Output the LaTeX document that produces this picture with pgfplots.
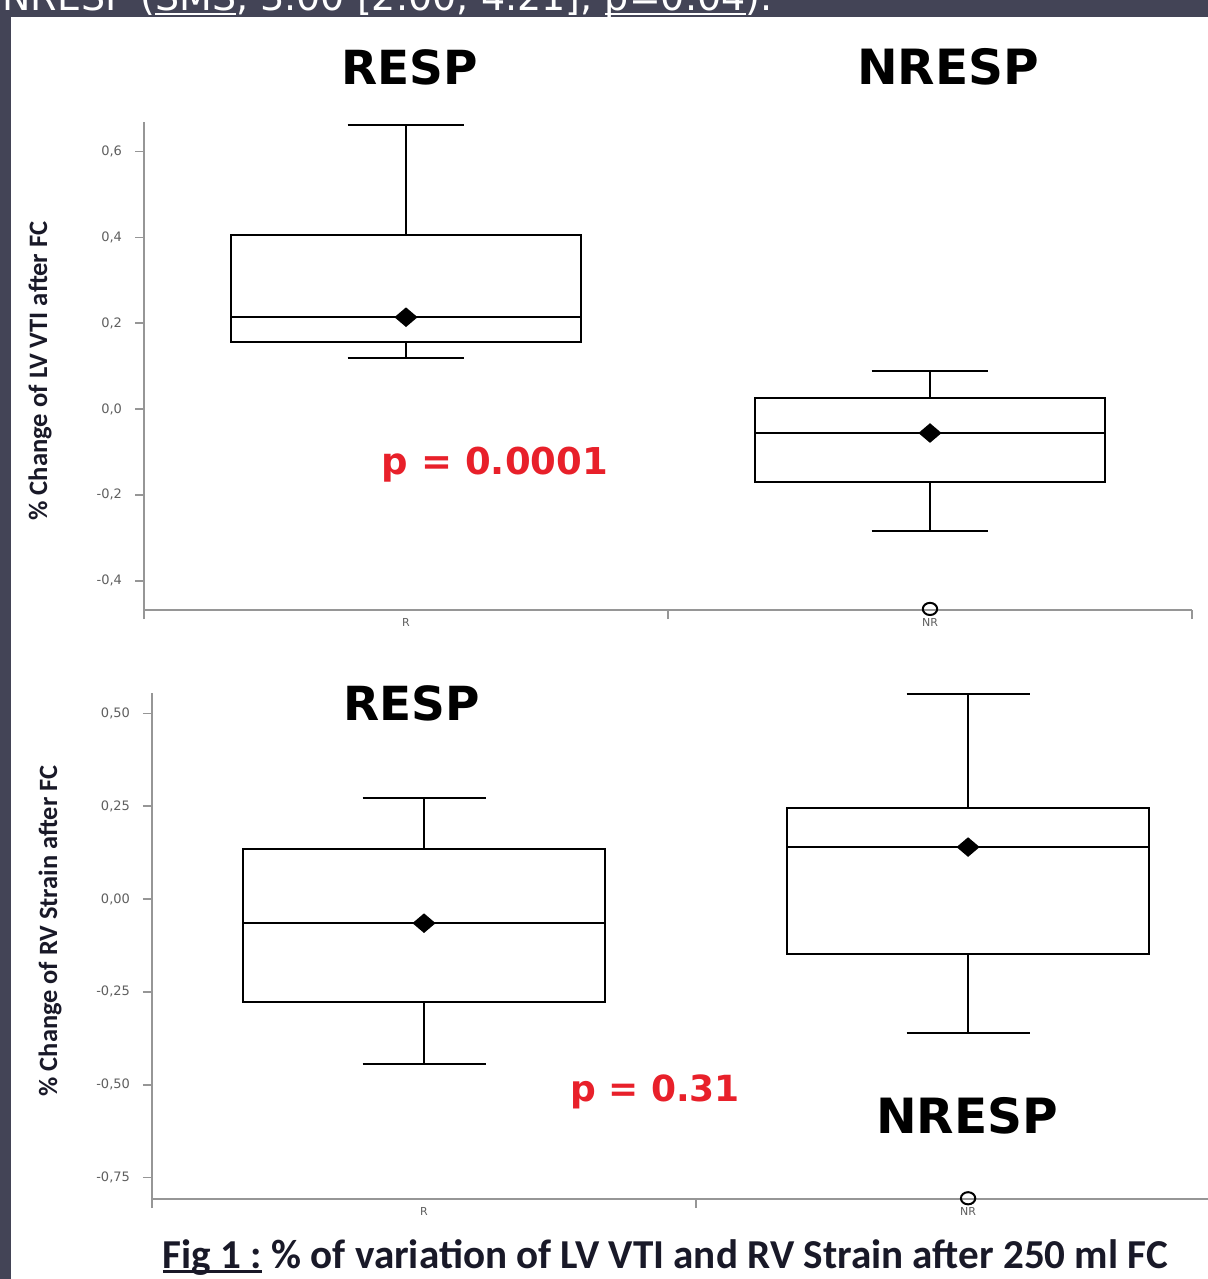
\documentclass[border=0pt]{standalone}
\usepackage{pgfplots}
\pgfplotsset{compat=1.18}
\usepgfplotslibrary{statistics}
\usepackage{fontspec}
\setmainfont{Carlito}
\newfontfamily\dejavu{DejaVu Sans}
\definecolor{band}{RGB}{67,68,86}
\definecolor{pred}{RGB}{232,32,42}
\definecolor{axgray}{RGB}{150,150,150}
\definecolor{tickgray}{RGB}{95,95,95}
\definecolor{capcol}{RGB}{25,25,40}
% underline: #1 = drop below baseline, #2 = thickness, #3 = text
\newcommand\ulx[3]{\leavevmode\setbox0\hbox{#3}\rlap{\rule[-#1]{\wd0}{#2}}\box0\relax}
% wide, flat filled diamond for the mean
\pgfdeclareplotmark{wdiamond*}{%
  \pgfpathmoveto{\pgfqpoint{0pt}{0.85\pgfplotmarksize}}%
  \pgfpathlineto{\pgfqpoint{\pgfplotmarksize}{0pt}}%
  \pgfpathlineto{\pgfqpoint{0pt}{-0.85\pgfplotmarksize}}%
  \pgfpathlineto{\pgfqpoint{-\pgfplotmarksize}{0pt}}%
  \pgfpathclose
  \pgfusepathqfillstroke}

\pgfplotsset{
  boxchart/.style={
    scale only axis,
    clip=false,
    axis x line*=bottom,
    axis y line*=left,
    axis line style={axgray, line width=1pt},
    every tick/.style={axgray, line width=0.9pt},
    major tick length=4.5pt,
    tick align=outside,
    xmin=0,
    xtick={0,1,2},
    xticklabels={},
    extra x ticks={0.5,1.5},
    extra x tick labels={R,NR},
    extra x tick style={major tick length=0pt, xticklabel style={yshift=-0.5pt}},
    xticklabel style={font=\dejavu\fontsize{5.5}{6}\selectfont, text=tickgray},
    boxplot/draw direction=y,
    boxplot/every box/.style={draw=black, line width=1pt},
    boxplot/every whisker/.style={black, line width=1pt},
    boxplot/every median/.style={black, line width=1pt},
    boxplot/every average/.style={/tikz/mark=wdiamond*, /tikz/mark size=5pt},
  },
  bp/.style={black, line width=1pt, mark=o, mark size=3.2pt,
    mark options={line width=1pt, draw=black, fill=black, xscale=1.12, yscale=0.95}},
}

\begin{document}
\begin{tikzpicture}
\useasboundingbox (0pt,0pt) rectangle (604pt,-639.5pt);
\fill[white] (0pt,0pt) rectangle (604pt,-639.5pt);

% top axis: LV VTI
\begin{axis}[boxchart,
  at={(72pt,-305pt)}, anchor=south west,
  width=524pt, height=244pt,
  xmax=2,
  ymin=-0.4685, ymax=0.669,
  ytick={-0.4,-0.2,0,0.2,0.4,0.6},
  yticklabel style={font=\dejavu\fontsize{6.5}{7}\selectfont, text=tickgray, xshift=-3pt,
    /pgf/number format/.cd, assume math mode=true, use comma, fixed, fixed zerofill, precision=1},
]
\addplot[bp, boxplot prepared={draw position=0.5, box extend=0.668, whisker extend=0.223,
  lower whisker=0.119, lower quartile=0.156, median=0.214, upper quartile=0.406, upper whisker=0.662, average=0.214}]
  coordinates {};
\addplot[bp, boxplot prepared={draw position=1.5, box extend=0.668, whisker extend=0.223,
  lower whisker=-0.284, lower quartile=-0.170, median=-0.056, upper quartile=0.026, upper whisker=0.089, average=-0.056}]
  coordinates {(1.5,-0.466)};
\end{axis}

% bottom axis: RV strain
\begin{axis}[boxchart,
  at={(76pt,-599.5pt)}, anchor=south west,
  width=528pt, height=253pt,
  xmax=1.941,
  xtick={0,1},
  ymin=-0.808, ymax=0.555,
  ytick={-0.75,-0.5,-0.25,0,0.25,0.5},
  yticklabel style={font=\dejavu\fontsize{6.5}{7}\selectfont, text=tickgray, xshift=-3pt,
    /pgf/number format/.cd, assume math mode=true, use comma, fixed, fixed zerofill, precision=2},
]
\addplot[bp, boxplot prepared={draw position=0.5, box extend=0.665, whisker extend=0.226,
  lower whisker=-0.445, lower quartile=-0.278, median=-0.065, upper quartile=0.135, upper whisker=0.272, average=-0.065}]
  coordinates {};
\addplot[bp, boxplot prepared={draw position=1.5, box extend=0.665, whisker extend=0.226,
  lower whisker=-0.361, lower quartile=-0.148, median=0.140, upper quartile=0.245, upper whisker=0.553, average=0.140}]
  coordinates {(1.5,-0.806)};
\end{axis}

\begin{scope}[x=0.5pt, y=-0.5pt]
  % dark frame
  \fill[band] (0,0) rectangle (1208,17);
  \fill[band] (0,0) rectangle (11,1279);
  \begin{scope}
    \clip (0,0) rectangle (1208,17);
    \node[anchor=base west, inner sep=0pt, text=white, font=\dejavu\fontsize{19}{22}\selectfont] at (2,11)
      {NRESP (\ulx{2.2pt}{1.2pt}{SMS}, 3.00 [2.00; 4.21], \ulx{2.2pt}{1.2pt}{p=0.04}).};
  \end{scope}

  % y labels
  \node[rotate=90, inner sep=0pt, font=\fontsize{13.3}{15}\selectfont\bfseries, text=capcol] at (40,371) {\% Change of LV VTI after FC};
  \node[rotate=90, inner sep=0pt, font=\fontsize{13.2}{15}\selectfont\bfseries, text=capcol] at (50,931) {\% Change of RV Strain after FC};

  % group titles
  \node[anchor=base, inner sep=0pt, font=\dejavu\bfseries\fontsize{23.5}{26}\selectfont] at (410,85) {RESP};
  \node[anchor=base, inner sep=0pt, font=\dejavu\bfseries\fontsize{24.3}{26}\selectfont] at (948,85) {NRESP};
  \node[anchor=base, inner sep=0pt, font=\dejavu\bfseries\fontsize{23.5}{26}\selectfont] at (412,720) {RESP};
  \node[anchor=base, inner sep=0pt, font=\dejavu\bfseries\fontsize{24.3}{26}\selectfont] at (967,1133) {NRESP};

  % p-values
  \node[anchor=base, inner sep=0pt, text=pred, font=\dejavu\bfseries\fontsize{18.5}{21}\selectfont] at (495,474) {p = 0.0001};
  \node[anchor=base, inner sep=0pt, text=pred, font=\dejavu\bfseries\fontsize{18}{21}\selectfont] at (655,1101) {p = 0.31};

  % caption
  \node[anchor=base, inner sep=0pt, text=capcol] at (665.5,1268)
    {\resizebox{502.5pt}{!}{\bfseries\ulx{1.1pt}{0.6pt}{Fig 1 :} \% of variation of LV VTI and RV Strain after 250 ml FC}};
\end{scope}
\end{tikzpicture}
\end{document}
